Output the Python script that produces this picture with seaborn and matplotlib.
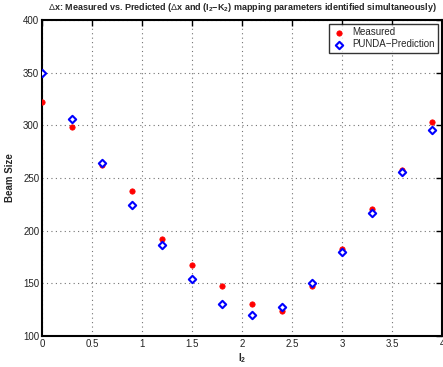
import numpy as np
import pandas as pd
import matplotlib
matplotlib.use("Agg")
import matplotlib.pyplot as plt
import seaborn as sns

x_vals = [0.0, 0.3, 0.6, 0.9, 1.2, 1.5, 1.8, 2.1, 2.4, 2.7, 3.0, 3.3, 3.6, 3.9]
measured = [322, 298, 262, 238, 192, 167, 147, 130, 124, 147, 183, 221, 258, 303]
predicted = [350, 306, 264, 224, 186, 154, 130, 120, 128, 150, 180, 217, 256, 296]
x_ticks = [0, 0.5, 1, 1.5, 2, 2.5, 3, 3.5, 4]
x_tick_labels = ["0", "0.5", "1", "1.5", "2", "2.5", "3", "3.5", "4"]
y_ticks = [100, 150, 200, 250, 300, 350, 400]

sns.set_style("white")
plt.rcParams["font.family"] = ["Liberation Sans", "DejaVu Sans"]
plt.rcParams["mathtext.fontset"] = "custom"
plt.rcParams["mathtext.rm"] = "Liberation Sans"
plt.rcParams["mathtext.bf"] = "Liberation Sans:bold"
plt.rcParams["mathtext.it"] = "Liberation Sans:italic"

df_m = pd.DataFrame({"x": x_vals, "y": measured})
df_p = pd.DataFrame({"x": x_vals, "y": predicted})

fig = plt.figure(figsize=(4.43, 3.67), dpi=100)
ax = fig.add_axes([42 / 443, 1 - 336 / 367, 400 / 443, 316 / 367])

sns.scatterplot(data=df_m, x="x", y="y", ax=ax, marker="o", s=15,
                color="red", edgecolor="red", linewidth=0.5, label="Measured", zorder=3)
sns.scatterplot(data=df_p, x="x", y="y", ax=ax, marker="D", s=14,
                facecolor="white", edgecolor="blue", linewidth=1.5,
                label="PUNDA\u2212Prediction", zorder=4)

ax.set_xlim(0, 4)
ax.set_ylim(100, 400)
ax.set_xticks(x_ticks)
ax.set_xticklabels(x_tick_labels)
ax.set_yticks(y_ticks)
ax.grid(True, linestyle=(0, (1, 3)), color="0.45", linewidth=0.8)
for s in ax.spines.values():
    s.set_visible(True)
    s.set_color("black")
    s.set_linewidth(1.5)
ax.tick_params(direction="in", length=4, width=1, top=True, right=True,
               labelsize=7, colors="black", pad=2)
for lab in ax.get_xticklabels() + ax.get_yticklabels():
    lab.set_color("#222222")

ax.set_xlabel(r"I$_\mathbf{2}$", fontsize=7, fontweight="bold", labelpad=2)
ax.set_ylabel("Beam Size", fontsize=7, fontweight="bold", labelpad=6)
ax.set_title(r"$\Delta$x: Measured vs. Predicted ($\Delta$x and (I$_\mathbf{2}$$\mathbf{-}$K$_\mathbf{2}$) mapping parameters identified simultaneously)",
             fontsize=6.5, fontweight="bold", pad=7)

leg = ax.legend(loc="upper right", fontsize=7, frameon=True, fancybox=False,
                edgecolor="black", borderpad=0.35, handletextpad=0.8,
                labelspacing=0.2, borderaxespad=0.4, handlelength=1.2)
leg.get_frame().set_linewidth(1.0)

fig.savefig("out.png", dpi=100)
